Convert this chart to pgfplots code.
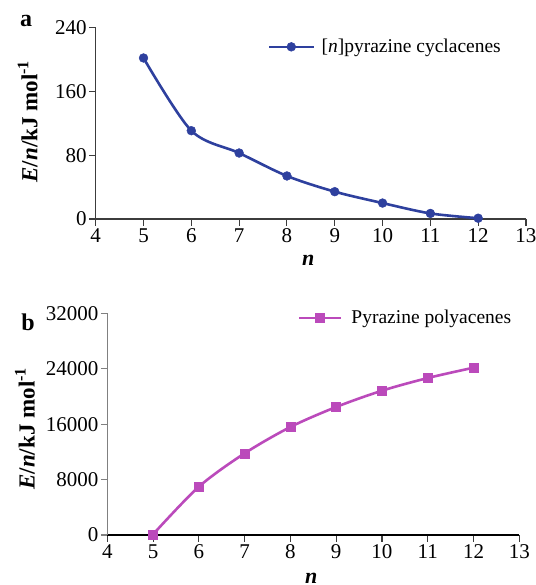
\documentclass[border=0pt]{standalone}
\usepackage{fontspec}
\setmainfont{Liberation Serif}
\usepackage{pgfplots}
\pgfplotsset{compat=1.18}
\definecolor{cblue}{RGB}{46,64,158}
\definecolor{cmag}{RGB}{187,74,187}
\definecolor{axc}{RGB}{60,60,60}
\begin{document}
\begin{tikzpicture}
\pgfplotsset{
  common/.style={
    scale only axis,
    axis lines=left,
    axis line style={axc, line width=1.1bp, -},
    tick style={axc, line width=1.1bp},
    tick align=outside,
    major tick length=6.5bp,
    xmin=4, xmax=13, xtick={4,...,13},
    /pgf/number format/assume math mode=true,
    /pgf/number format/1000 sep={},
    scaled y ticks=false,
    tick label style={font=\fontsize{21bp}{24bp}\selectfont},
    xticklabel style={yshift=0bp},
    yticklabel style={xshift=1bp},
    legend style={draw=none, fill=none, font=\fontsize{19.5bp}{22bp}\selectfont, inner sep=0pt, row sep=0pt},
    legend cell align=left,
    clip=false,
  }
}
% panel a
\begin{axis}[common,
  at={(95.7bp,-219bp)}, anchor=south west,
  width=430.3bp, height=191.3bp,
  ymin=0, ymax=240, ytick={0,80,160,240},
  ylabel={\textbf{\textit{E}/\textit{n}/kJ mol\textsuperscript{-1}}},
  every axis y label/.style={at={(axis description cs:-0.158,0.51)}, rotate=90, anchor=center, font=\fontsize{23bp}{26bp}\selectfont},
  xlabel={\textbf{\textit{n}}},
  every axis x label/.style={at={(axis description cs:0.494,-0.188)}, anchor=north, inner sep=0pt, font=\fontsize{22bp}{24bp}\selectfont},
  legend style={at={(axis description cs:0.4,0.90)}, anchor=west},
  legend image code/.code={\draw[mark repeat=2,mark phase=2,#1] plot coordinates {(0bp,0bp) (22bp,0bp) (44bp,0bp)}; \path (49bp,0bp);},
]
\addplot[cblue, line width=2.6bp, smooth, tension=0.5, mark=*, mark size=4.4bp, mark options={solid, fill=cblue, draw=cblue, line width=0.5bp}]
  coordinates {(5,202) (6,110.8) (7,82.8) (8,54) (9,34.3) (10,20) (11,7) (12,1)};
\addlegendentry{[\textit{n}]pyrazine cyclacenes}
\end{axis}
% panel b
\begin{axis}[common,
  at={(107.3bp,-535bp)}, anchor=south west,
  width=412bp, height=221.7bp,
  ymin=0, ymax=32000, ytick={0,8000,16000,24000,32000},
  y axis line style={gray},
  ytick style={gray},
  x axis line style={black},
  ylabel={\textbf{\textit{E}/\textit{n}/kJ mol\textsuperscript{-1}}},
  every axis y label/.style={at={(axis description cs:-0.2,0.48)}, rotate=90, anchor=center, font=\fontsize{23bp}{26bp}\selectfont},
  xlabel={\textbf{\textit{n}}},
  every axis x label/.style={at={(axis description cs:0.495,-0.171)}, anchor=north, inner sep=0pt, font=\fontsize{22bp}{24bp}\selectfont},
  legend style={at={(axis description cs:0.462,0.979)}, anchor=west},
  legend image code/.code={\draw[mark repeat=2,mark phase=2,#1] plot coordinates {(0bp,0bp) (21bp,0bp) (42bp,0bp)}; \path (49bp,0bp);},
]
\addplot[cmag, line width=2.6bp, smooth, tension=0.5, mark=square*, mark size=4.5bp, mark options={solid, fill=cmag, draw=cmag, line width=0.5bp}]
  coordinates {(5,100) (6,6970) (7,11790) (8,15590) (9,18480) (10,20830) (11,22660) (12,24150)};
\addlegendentry{Pyrazine polyacenes}
\end{axis}
\node[font=\fontsize{24bp}{26bp}\selectfont\bfseries] at (26bp,-21bp) {a};
\node[font=\fontsize{24bp}{26bp}\selectfont\bfseries] at (28bp,-322bp) {b};
\pgfresetboundingbox
\path[use as bounding box] (0bp,0bp) rectangle (536bp,-585bp);
\end{tikzpicture}
\end{document}
